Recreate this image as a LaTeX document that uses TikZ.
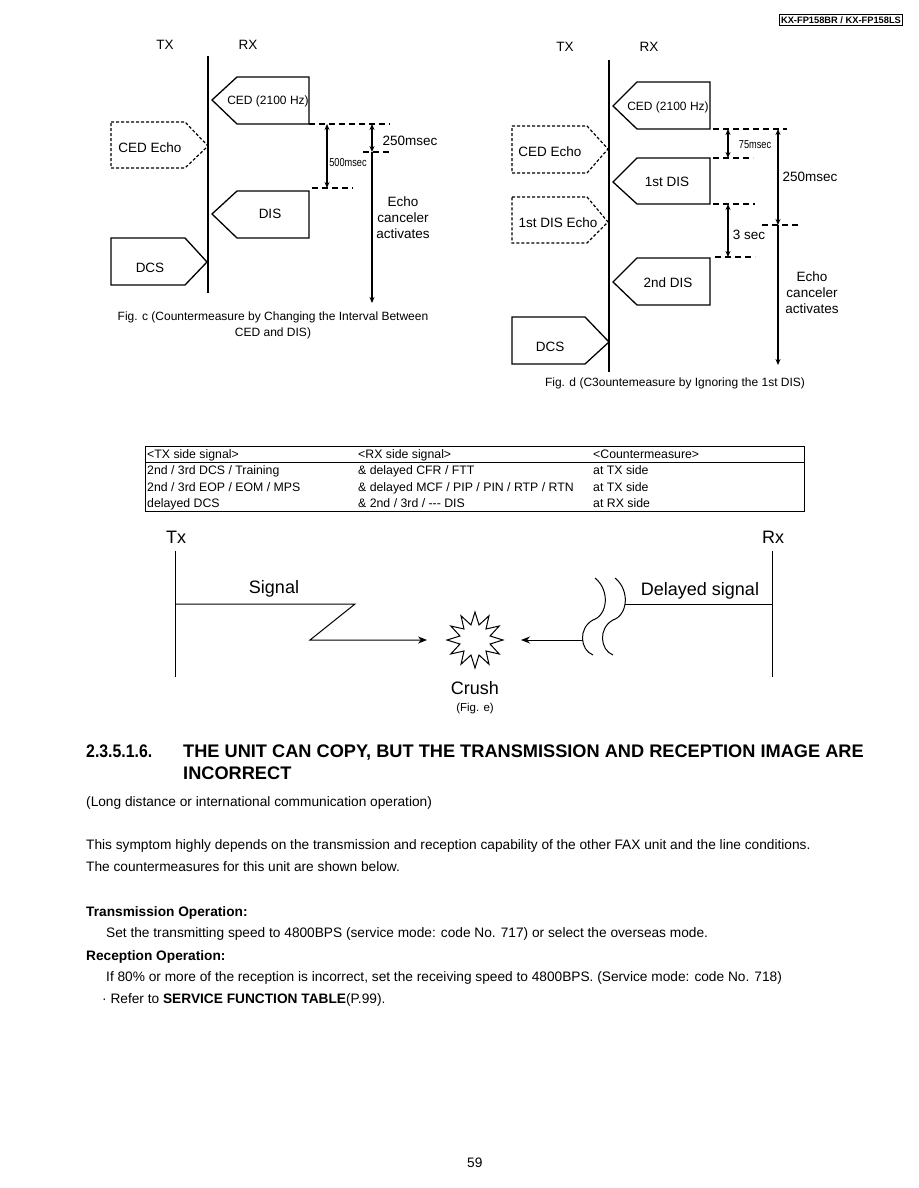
\documentclass[tikz,border=0pt]{standalone}
\usepackage{fontspec}
\setmainfont{Liberation Sans}
\usetikzlibrary{positioning, arrows.meta, shapes.geometric}

\begin{document}
\begin{tikzpicture}[x=1pt, y=-1pt,
  every node/.style={inner sep=0pt, font=\fontsize{13.5}{16}\selectfont},
  sigbox/.style={line width=1.3pt, line join=miter},
  echobox/.style={line width=1.2pt, dash pattern=on 3pt off 2pt},
  gapline/.style={line width=1.1pt, dash pattern=on 6pt off 4pt},
  timeline/.style={line width=1.3pt},
  dimarrow/.style={line width=1.3pt, {Stealth[length=6pt,width=5pt]}-{Stealth[length=6pt,width=5pt]}},
  downarrow/.style={line width=1.3pt, -{Stealth[length=6pt,width=5pt]}},
  cedlabel/.style={font=\fontsize{12}{14}\selectfont},
  caption/.style={font=\fontsize{12}{16}\selectfont, align=center},
  bigtext/.style={font=\fontsize{18}{20}\selectfont},
  celltext/.style={anchor=base west, font=\fontsize{12.3}{14}\selectfont},
  bodytext/.style={anchor=base west, font=\fontsize{13.7}{16}\selectfont},
  boldtext/.style={anchor=base west, font=\fontsize{13.7}{16}\selectfont\bfseries},
  headtext/.style={anchor=base west, font=\fontsize{18.2}{21}\selectfont\bfseries}]
\useasboundingbox (0,0) rectangle (918,1188);

% header
\node[draw, line width=1pt, inner xsep=2pt, inner ysep=2pt, font=\fontsize{9.3}{11}\selectfont\bfseries] (model) at (841,20) {KX-FP158BR / KX-FP158LS};

% ---------- Fig. c ----------
\node (txc) at (165,45) {TX};
\node (rxc) at (248,45) {RX};
\coordinate (linec top) at (208,56);
\coordinate (linec bot) at (208,293);
\draw[timeline] (linec top) -- (linec bot);
% RX -> TX
\draw[sigbox] (237,77) -- (309,77) -- (309,124) -- (237,124) -- (212,100) -- cycle;
\node[cedlabel] (cedc) at (268,101) {CED (2100 Hz)};
\draw[sigbox] (237,191) -- (309,191) -- (309,238) -- (237,238) -- (212,214) -- cycle;
\node (disc) at (270,214) {DIS};
% TX -> RX
\draw[echobox] (111,122) -- (185,122) -- (208,146) -- (185,168) -- (111,168) -- cycle;
\node (echoc) at (150,148) {CED Echo};
\draw[sigbox] (111,238) -- (185,238) -- (207,262) -- (185,285) -- (111,285) -- cycle;
\node (dcsc) at (150,268) {DCS};
% intervals
\coordinate (c124) at (327,124); \coordinate (c188) at (327,188);
\coordinate (e124) at (372,124); \coordinate (e152) at (372,152); \coordinate (e303) at (372,303);
\draw[gapline] (309,124) -- (390,124);
\draw[gapline] (363,152) -- (392,152);
\draw[gapline] (312,188) -- (353,188);
\draw[dimarrow] (c124) -- (c188);
\draw[dimarrow] (e124) -- (e152);
\draw[downarrow] (e152) -- (e303);
\node[font=\fontsize{11.5}{13}\selectfont] (ms500c) at (348,163) {\scalebox{0.8}[1]{500msec}};
\node (ms250c) at (410,141) {250msec};
\node[align=center] (eccc) at (403,218) {Echo\\canceler\\activates};
\node[caption] (capc) at (273,325) {Fig. c (Countermeasure by Changing the Interval Between\\CED and DIS)};

% ---------- Fig. d ----------
\node (txd) at (565,47) {TX};
\node (rxd) at (649,47) {RX};
\coordinate (lined top) at (609,60);
\coordinate (lined bot) at (609,372);
\draw[timeline] (lined top) -- (lined bot);
% RX -> TX
\draw[sigbox] (637,82) -- (710,82) -- (710,129) -- (637,129) -- (613,106) -- cycle;
\node[cedlabel] (cedd) at (668,107) {CED (2100 Hz)};
\draw[sigbox] (637,158) -- (710,158) -- (710,204) -- (637,204) -- (613,182) -- cycle;
\node (dis1d) at (667,182) {1st DIS};
\draw[sigbox] (637,258) -- (710,258) -- (710,305) -- (637,305) -- (613,282) -- cycle;
\node (dis2d) at (668,283) {2nd DIS};
% TX -> RX
\draw[echobox] (512,126) -- (587,126) -- (608,149) -- (587,173) -- (512,173) -- cycle;
\node (echo1d) at (550,152) {CED Echo};
\draw[echobox] (512,197) -- (587,197) -- (608,222) -- (587,243) -- (512,243) -- cycle;
\node (echo2d) at (558,223) {1st DIS Echo};
\draw[sigbox] (512,317) -- (585,317) -- (609,342) -- (585,364) -- (512,364) -- cycle;
\node (dcsd) at (550,347) {DCS};
% intervals
\coordinate (d129) at (728,129); \coordinate (d158) at (728,158);
\coordinate (d204) at (728,204); \coordinate (d257) at (728,257);
\coordinate (f129) at (778,129); \coordinate (f225) at (778,225); \coordinate (f365) at (778,365);
\draw[gapline] (713,129) -- (787,129);
\draw[gapline] (713,158) -- (753,158);
\draw[gapline] (713,204) -- (755,204);
\draw[gapline] (762,225) -- (800,225);
\draw[gapline] (715,257) -- (755,257);
\draw[dimarrow] (d129) -- (d158);
\draw[dimarrow] (d204) -- (d257);
\draw[dimarrow] (f129) -- (f225);
\draw[downarrow] (f225) -- (f365);
\node[font=\fontsize{11.5}{13}\selectfont] (ms75d) at (755,145) {\scalebox{0.8}[1]{75msec}};
\node (sec3d) at (749,235) {3 sec};
\node (ms250d) at (810,177) {250msec};
\node[align=center] (eccd) at (812,293) {Echo\\canceler\\activates};
\node[caption] (capd) at (675,383) {Fig. d (C3ountemeasure by Ignoring the 1st DIS)};

% ---------- table ----------
\draw[line width=0.8pt] (145,446) rectangle (804,511);
\draw[line width=0.8pt] (145,462) -- (804,462);
\foreach \y/\a/\b/\c in {458/{<TX side signal>}/{<RX side signal>}/{<Countermeasure>},
    474.5/{2nd / 3rd DCS / Training}/{\& delayed CFR / FTT}/{at TX side},
    491/{2nd / 3rd EOP / EOM / MPS}/{\& delayed MCF / PIP / PIN / RTP / RTN}/{at TX side},
    507.5/{delayed DCS}/{\& 2nd / 3rd / -{}-{}- DIS}/{at RX side}} {
  \node[celltext] (ta\y) at (147,\y) {\a};
  \node[celltext] (tb\y) at (358,\y) {\b};
  \node[celltext] (tc\y) at (593,\y) {\c};
}

% ---------- Fig. e ----------
\node[bigtext] (tx) at (176,537) {Tx};
\node[bigtext] (rx) at (773,537) {Rx};
\coordinate (tx top) at (175,551); \coordinate (tx bot) at (175,677);
\coordinate (rx top) at (772,551); \coordinate (rx bot) at (772,677);
\draw[line width=1pt] (tx top) -- (tx bot);
\draw[line width=1pt] (rx top) -- (rx bot);
\node[star, star points=12, star point ratio=1.8, draw, line width=1pt, minimum size=56pt] (crash) at (475,640) {};
\coordinate (sig a) at (175,604); \coordinate (sig b) at (355,604);
\coordinate (sig c) at (310,640); \coordinate (sig d) at (427,640);
\draw[line width=1pt, -{Stealth[length=9pt,width=7pt]}] (sig a) -- (sig b) -- (sig c) -- (sig d);
\node[bigtext] (sigtxt) at (274,589) {Signal};
% delayed signal with break marks
\draw[line width=1pt] (595,578) .. controls (610,590) and (608,615) .. (593,620) .. controls (578,628) and (580,650) .. (593,655);
\draw[line width=1pt] (615,578) .. controls (630,590) and (628,615) .. (613,620) .. controls (598,628) and (600,650) .. (613,655);
\coordinate (del a) at (772,604); \coordinate (del b) at (625,604);
\coordinate (del c) at (583,640); \coordinate (del d) at (521,640);
\draw[line width=1pt] (del a) -- (del b);
\draw[line width=1pt, -{Stealth[length=9pt,width=7pt]}] (del c) -- (del d);
\node[bigtext] (deltxt) at (700,591) {Delayed signal};
\node[bigtext] (crushtxt) at (475,688) {Crush};
\node[font=\fontsize{11.5}{13}\selectfont] (fige) at (475,709) {(Fig. e)};

% ---------- text ----------
\node[headtext] (secno) at (86,757) {\scalebox{0.87}[1]{2.3.5.1.6.}};
\node[headtext] (head1) at (183,757) {THE UNIT CAN COPY, BUT THE TRANSMISSION AND RECEPTION IMAGE ARE};
\node[headtext] (head2) at (183,779) {INCORRECT};
\node[bodytext] (p0) at (86,806) {(Long distance or international communication operation)};
\node[bodytext] (p1) at (86,849) {This symptom highly depends on the transmission and reception capability of the other FAX unit and the line conditions.};
\node[bodytext] (p2) at (86,871) {The countermeasures for this unit are shown below.};
\node[boldtext] (p3) at (86,916) {Transmission Operation:};
\node[bodytext] (p4) at (106,937) {Set the transmitting speed to 4800BPS (service mode: code No. 717) or select the overseas mode.};
\node[boldtext] (p5) at (86,960) {Reception Operation:};
\node[bodytext] (p6) at (106,981) {If 80\% or more of the reception is incorrect, set the receiving speed to 4800BPS. (Service mode: code No. 718)};
\node[bodytext] (p7) at (102,1003) {· Refer to \textbf{SERVICE FUNCTION TABLE}(P.99).};
\node[bodytext] (pageno) at (467,1167) {59};
\end{tikzpicture}
\end{document}
